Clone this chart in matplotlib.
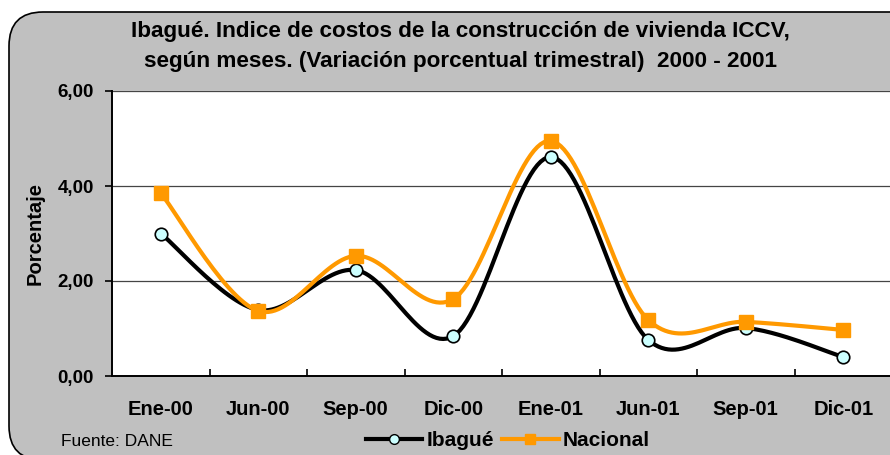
import numpy as np
import matplotlib.pyplot as plt
from matplotlib.patches import FancyBboxPatch
from matplotlib.lines import Line2D

plt.rcParams['font.family'] = ['Liberation Sans', 'DejaVu Sans']

# ICCV quarterly variation (%), Ibague vs national
meses = ['Ene-00', 'Jun-00', 'Sep-00', 'Dic-00', 'Ene-01', 'Jun-01', 'Sep-01', 'Dic-01']
ibague = [3.00, 1.39, 2.23, 0.84, 4.61, 0.76, 1.01, 0.40]
nacional = [3.85, 1.37, 2.53, 1.62, 4.95, 1.18, 1.14, 0.97]

NEGRO = '#000000'
NARANJA = '#FF9900'
CIAN = '#CCFFFF'
GRIS = '#C0C0C0'


def suavizar(y, n=30):
    # cubic bezier through the points, like the smoothed lines of a spreadsheet chart
    y = np.asarray(y, dtype=float)
    x = np.arange(len(y), dtype=float)
    pts = np.column_stack([x, y])
    ext = np.vstack([pts[0], pts, pts[-1]])
    out = []
    for i in range(len(pts) - 1):
        p0, p3 = pts[i], pts[i + 1]
        c1 = p0 + (ext[i + 2] - ext[i]) / 6.0
        c2 = p3 - (ext[i + 3] - ext[i + 1]) / 6.0
        t = np.linspace(0, 1, n)[:, None]
        seg = ((1 - t) ** 3) * p0 + 3 * ((1 - t) ** 2) * t * c1 + 3 * (1 - t) * t ** 2 * c2 + t ** 3 * p3
        out.append(seg if i == 0 else seg[1:])
    seg = np.vstack(out)
    return seg[:, 0], seg[:, 1]


W, H = 890, 455
fig = plt.figure(figsize=(W / 100, H / 100), dpi=100)
fig.patch.set_facecolor('white')

# rounded gray frame, drawn on a background axes in pixel units
fondo = fig.add_axes([0, 0, 1, 1], zorder=-1)
fondo.set_xlim(0, W)
fondo.set_ylim(H, 0)
fondo.axis('off')
fondo.add_patch(FancyBboxPatch((9, 12), 920, 448,
                               boxstyle='round,pad=0,rounding_size=34',
                               facecolor=GRIS, edgecolor=NEGRO, linewidth=1.2))

ax = fig.add_axes([112 / W, 1 - 376 / H, 780 / W, 285 / H])
ax.set_facecolor('white')

x = np.arange(len(meses))
xs, ys = suavizar(ibague)
ax.plot(xs, ys, color=NEGRO, lw=3.0, solid_capstyle='round', zorder=3)
ax.plot(x, ibague, linestyle='none', marker='o', ms=9, mfc=CIAN, mec=NEGRO,
        mew=1.2, zorder=5)
xs, ys = suavizar(nacional)
ax.plot(xs, ys, color=NARANJA, lw=3.0, solid_capstyle='round', zorder=4)
ax.plot(x, nacional, linestyle='none', marker='s', ms=10, mfc=NARANJA, mec=NARANJA,
        zorder=6)

ax.set_xlim(-0.5, len(meses) - 0.5)
ax.set_ylim(0, 6)
ax.set_yticks([0, 2, 4, 6])
ax.set_yticklabels(['0,00', '2,00', '4,00', '6,00'], fontsize=13.5, fontweight='bold')
ax.set_xticks(x)
ax.set_xticklabels(meses, fontsize=14.5, fontweight='bold')
ax.set_xticks(np.arange(0.5, len(meses) - 0.5), minor=True)
ax.tick_params(axis='x', which='major', length=0, pad=17)
ax.tick_params(axis='x', which='minor', direction='in', length=5, width=1.2)
ax.tick_params(axis='y', direction='out', length=5, width=1.2, pad=8)
ax.grid(axis='y', color='#454545', lw=0.9, zorder=1)
ax.set_axisbelow(True)
for lado in ['top', 'right']:
    ax.spines[lado].set_visible(False)
for lado in ['left', 'bottom']:
    ax.spines[lado].set_linewidth(1.4)

ax.set_ylabel('Porcentaje', fontsize=14.5, fontweight='bold', labelpad=9)

fig.text(460 / W, 1 - 32 / H, 'Ibagué. Indice de costos de la construcción de vivienda ICCV,',
         ha='center', va='center', fontsize=16.2, fontweight='bold')
fig.text(460 / W, 1 - 62 / H, 'según meses. (Variación porcentual trimestral)  2000 - 2001',
         ha='center', va='center', fontsize=16.2, fontweight='bold')

fig.text(61 / W, 1 - 441 / H, 'Fuente: DANE', ha='left', va='center', fontsize=12.5)

h1 = Line2D([], [], color=NEGRO, lw=3.0, marker='o', ms=7, mfc=CIAN, mec=NEGRO)
h2 = Line2D([], [], color=NARANJA, lw=3.0, marker='s', ms=7, mfc=NARANJA, mec=NARANJA)
fig.legend([h1, h2], ['Ibagué', 'Nacional'], loc='center', ncol=2,
           bbox_to_anchor=(508 / W, 1 - 441 / H), frameon=False,
           prop={'weight': 'bold', 'size': 15}, handlelength=2.7,
           handletextpad=0.2, columnspacing=0.4, borderpad=0)

fig.savefig('out.png', dpi=100, facecolor='white')
